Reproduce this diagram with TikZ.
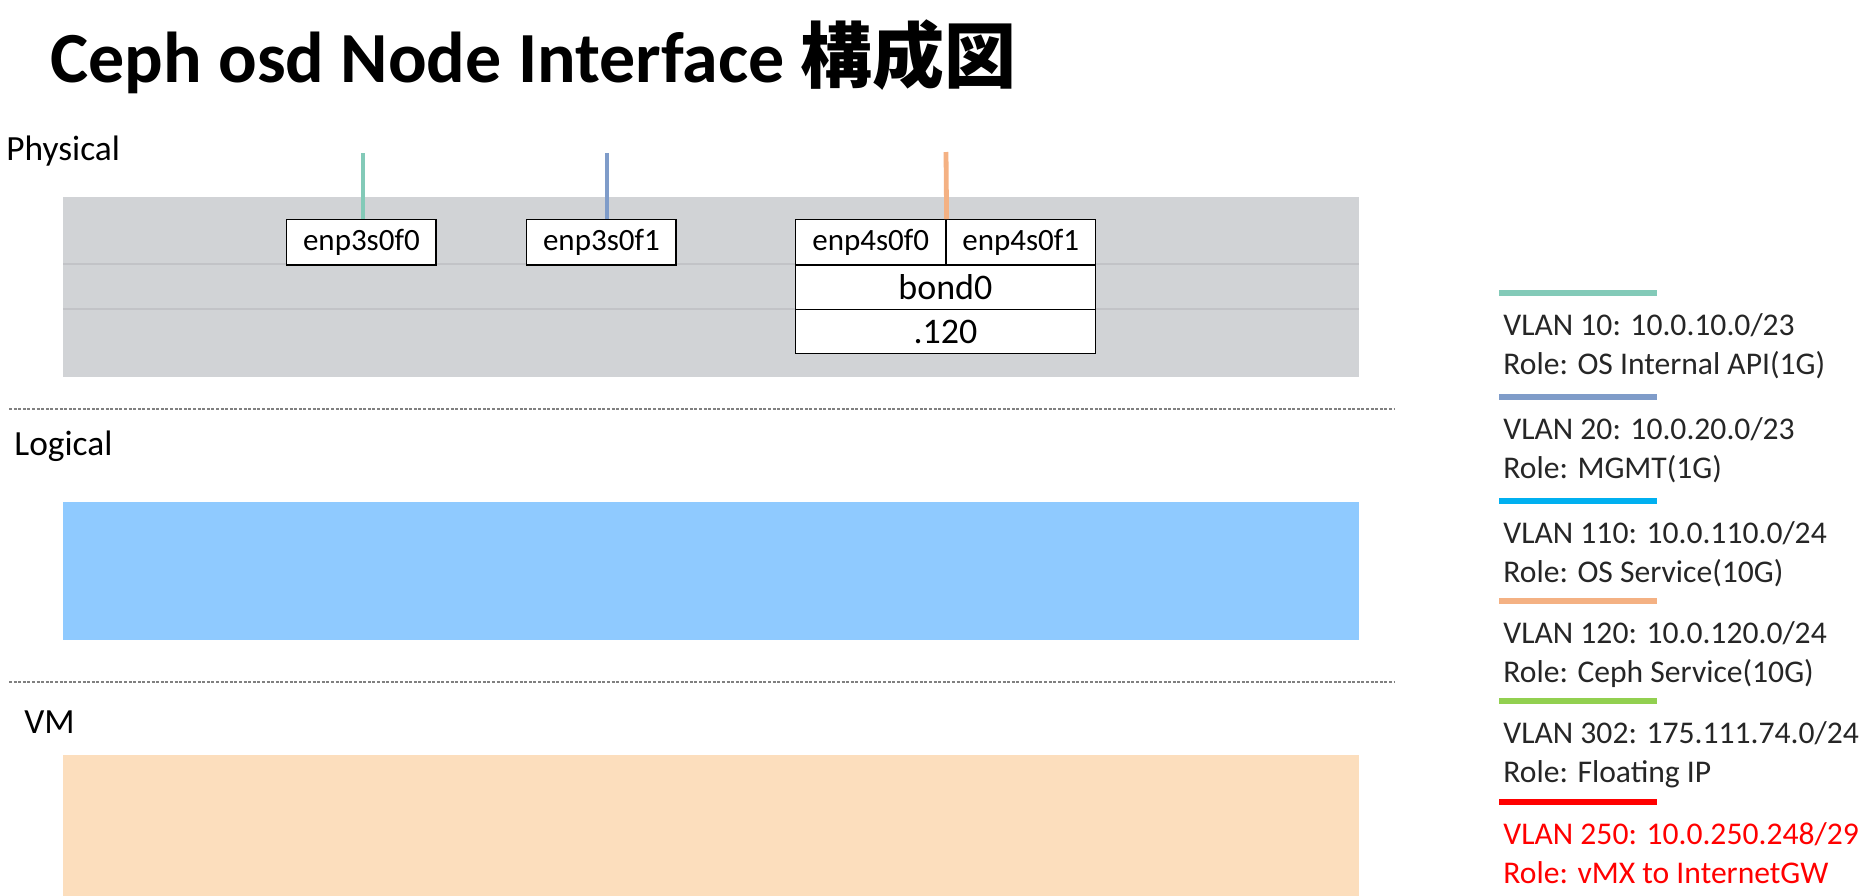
\documentclass[tikz,border=0pt]{standalone}
\usepackage{fontspec}
\setmainfont{Carlito}
\newfontfamily\cjk{Noto Sans CJK JP}
\definecolor{physgray}{HTML}{D1D3D6}
\definecolor{physline}{HTML}{C2C3C7}
\definecolor{logblue}{HTML}{8FCAFF}
\definecolor{vmorange}{HTML}{FCDEBD}
\definecolor{cteal}{HTML}{83CAB8}
\definecolor{cslate}{HTML}{7F9CC9}
\definecolor{ccyan}{HTML}{00B0F0}
\definecolor{corange}{HTML}{F4B183}
\definecolor{cgreen}{HTML}{92D050}
\definecolor{cred}{HTML}{FF0000}
\definecolor{txtdark}{HTML}{262626}
\definecolor{sepgray}{HTML}{808080}
\tikzset{
  ifbox/.style={draw=black, line width=0.6pt, fill=white, inner sep=0pt,
    minimum height=22.6pt, font=\fontsize{15.5}{18}\selectfont},
  bigbox/.style={ifbox, minimum height=22.2pt, font=\fontsize{18}{21}\selectfont},
  layerlabel/.style={anchor=base west, inner sep=0pt, font=\fontsize{17.7}{21}\selectfont},
  legtext/.style={anchor=base west, inner sep=0pt, text=txtdark, font=\fontsize{15.8}{19}\selectfont},
  legbar/.style={line width=3pt},
  stub/.style={line width=2.4pt},
  sepline/.style={draw=sepgray, line width=0.6pt, dash pattern=on 1.5pt off 0.8pt},
}
\begin{document}
\begin{tikzpicture}[x=0.5pt, y=-0.5pt]
\useasboundingbox (0,0) rectangle (1873,895);
% title
\node[anchor=base west, inner sep=0pt, font=\fontsize{36}{42}\selectfont\bfseries] (title) at (50,82)
  {Ceph osd Node Interface {\cjk\bfseries 構成図}};
% layer backgrounds
\fill[physgray] (63,197) rectangle (1359,377);
\draw[physline, line width=1pt] (63,264) -- (1359,264);
\draw[physline, line width=1pt] (63,309) -- (1359,309);
\fill[logblue] (63,502) rectangle (1359,640);
\fill[vmorange] (63,755) rectangle (1359,900);
% separators
\draw[sepline] (9,409) -- (1394,409);
\draw[sepline] (9,682) -- (1394,682);
% layer labels
\node[layerlabel] (lphys) at (6,160) {Physical};
\node[layerlabel] (llog) at (14,455) {Logical};
\node[layerlabel] (lvm) at (24,733) {VM};
% interface boxes
\node[ifbox, minimum width=74.65pt] (e3a) at (361.4,242.4) {enp3s0f0};
\node[ifbox, minimum width=74.65pt] (e3b) at (601.4,242.4) {enp3s0f1};
\node[ifbox, minimum width=75.25pt] (e4a) at (870.75,242.4) {enp4s0f0};
\node[ifbox, minimum width=74.7pt] (e4b) at (1020.7,242.4) {enp4s0f1};
\node[bigbox, minimum width=149.95pt] (bond) at (945.45,287.2) {bond0};
\node[bigbox, minimum width=149.95pt] (vl) at (945.45,331.5) {.120};
% stubs
\coordinate (s1) at (363,153);
\coordinate (s2) at (607,153);
\coordinate (s3) at (946,152);
\draw[stub, cteal] (s1) -- (s1 |- e3a.north);
\draw[stub, cslate] (s2) -- (s2 |- e3b.north);
\draw[stub, corange] (s3) -- (e4a.north east);
% legend
\foreach \y/\c/\n in {292.7/cteal/a, 396.6/cslate/b, 500.5/ccyan/c, 600.8/corange/d, 701.2/cgreen/e, 801.5/cred/f} {
  \coordinate (l\n1) at (1499,\y);
  \coordinate (l\n2) at (1657,\y);
  \draw[legbar, \c] (l\n1) -- (l\n2);
}
\node[legtext] (t1a) at (1503,335) {VLAN 10: 10.0.10.0/23};
\node[legtext] (t1b) at (1503,374) {Role: OS Internal API(1G)};
\node[legtext] (t2a) at (1503,439) {VLAN 20: 10.0.20.0/23};
\node[legtext] (t2b) at (1503,478) {Role: MGMT(1G)};
\node[legtext] (t3a) at (1503,543) {VLAN 110: 10.0.110.0/24};
\node[legtext] (t3b) at (1503,582) {Role: OS Service(10G)};
\node[legtext] (t4a) at (1503,643) {VLAN 120: 10.0.120.0/24};
\node[legtext] (t4b) at (1503,682) {Role: Ceph Service(10G)};
\node[legtext] (t5a) at (1503,743.5) {VLAN 302: 175.111.74.0/24};
\node[legtext] (t5b) at (1503,782.5) {Role: Floating IP};
\node[legtext, text=cred] (t6a) at (1503,844) {VLAN 250: 10.0.250.248/29};
\node[legtext, text=cred] (t6b) at (1503,883) {Role: vMX to InternetGW};
\end{tikzpicture}
\end{document}
